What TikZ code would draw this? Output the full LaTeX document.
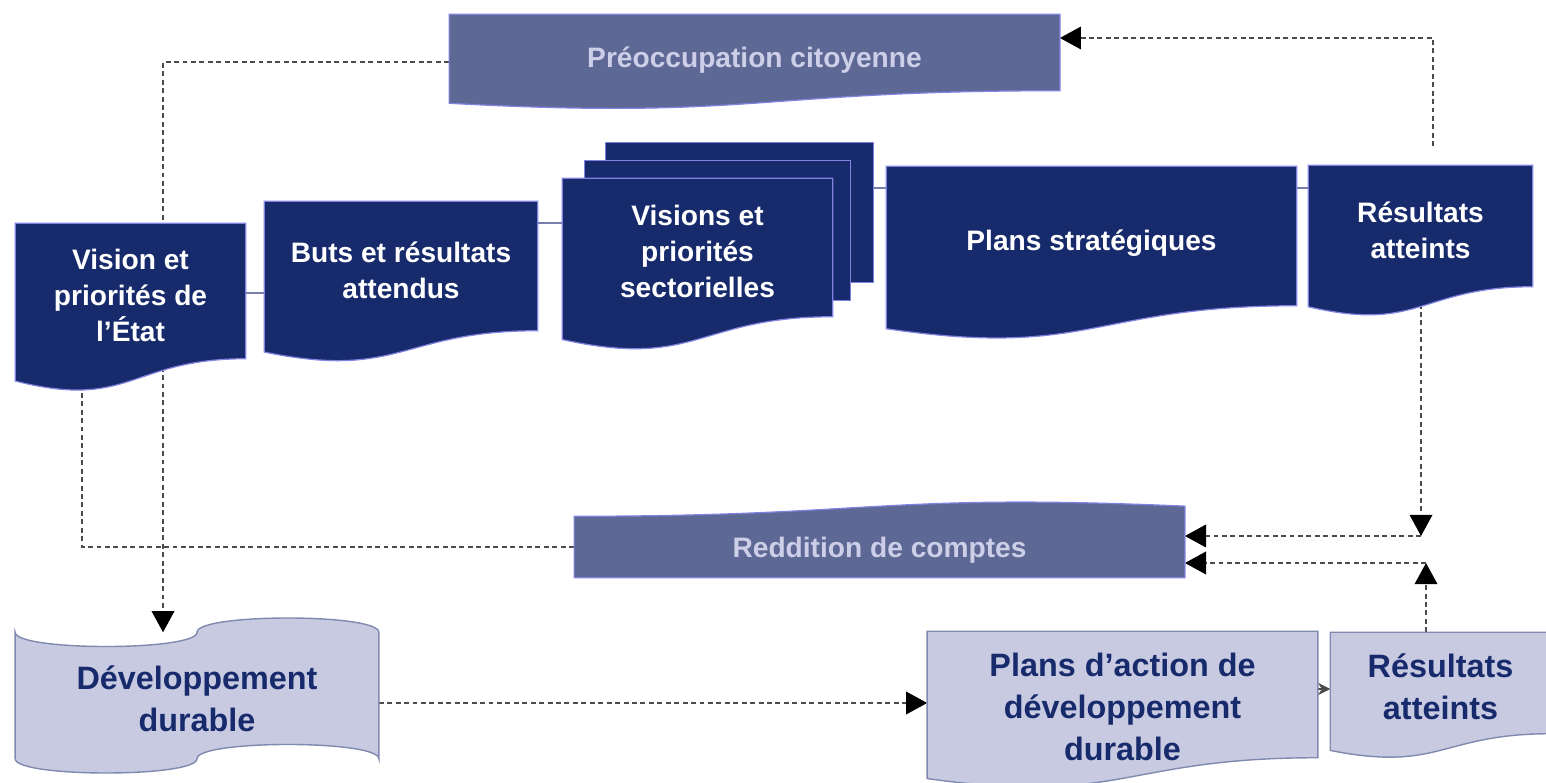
\documentclass[tikz,border=0pt]{standalone}
\usepackage{fontspec}
\setmainfont{Liberation Sans}
\usetikzlibrary{arrows.meta,calc,backgrounds}

\definecolor{navyfill}{RGB}{23,42,107}
\definecolor{slatefill}{RGB}{94,104,148}
\definecolor{lavfill}{RGB}{200,202,226}
\definecolor{lavtext}{RGB}{205,207,232}
\definecolor{edgeblue}{RGB}{130,130,225}
\definecolor{linkgray}{RGB}{75,75,75}
\definecolor{tiegray}{RGB}{120,126,172}

% lines of a box, pushed down by the first row height
\newcommand{\boxlines}[1]{\begin{tabular}{@{}c@{}}\rule{0pt}{\textdropamount}#1\end{tabular}}

\tikzset{
  textdrop/.code={\def\textdropamount{#1}},
  darkbox/.style={inner sep=0pt, textdrop=11.2pt, text=white, font=\bfseries\fontsize{8}{10.2}\selectfont},
  lightbox/.style={inner sep=0pt, textdrop=12.3pt, text=navyfill, font=\bfseries\fontsize{9.2}{12}\selectfont},
  bannerbox/.style={inner sep=0pt, textdrop=11.4pt, text=lavtext, font=\bfseries\fontsize{8}{10.2}\selectfont},
  darkfill/.style={fill=navyfill, draw=edgeblue, line width=0.35pt},
  slatefillst/.style={fill=slatefill, draw=edgeblue, line width=0.35pt},
  lightfill/.style={fill=lavfill, draw=navyfill!55, line width=0.4pt},
  dashlink/.style={draw=linkgray, line width=0.55pt, dash pattern=on 1.4pt off 1pt},
  linkhead/.style={-{Triangle[length=6pt,width=6.4pt,color=black]}},
  tie/.style={draw=tiegray, line width=0.6pt}
}

% document shape: straight top, wavy bottom under the node
\newcommand{\docshape}[2]{%
  \path[#1] let \p1=(#2.north west), \p2=(#2.south east), \n1={\y1-\y2} in
    (\p1) -- (\x2,\y1) -- (\p2)
    .. controls ({(\x1+\x2)/2},\y2) and ({(\x1+\x2)/2},{\y2-0.381*\n1}) ..
    (\x1,{\y2-0.1646*\n1}) -- cycle;}
% same shape turned round, wave on top
\newcommand{\docshapeup}[2]{%
  \path[#1] let \p1=(#2.north west), \p2=(#2.south east), \n1={\y1-\y2} in
    (\p2) -- (\x1,\y2) -- (\p1)
    .. controls ({(\x1+\x2)/2},\y1) and ({(\x1+\x2)/2},{\y1+0.381*\n1}) ..
    (\x2,{\y1+0.1646*\n1}) -- cycle;}

\begin{document}
\begin{tikzpicture}[x=0.01cm, y=-0.01cm]
\useasboundingbox (0,0) rectangle (1546,783);

% upper row
\node[bannerbox, minimum width=6.09cm, minimum height=0.75cm] (preo) at (754.5,52.5) {\boxlines{Préoccupation citoyenne}};
\node[darkbox, minimum width=2.29cm, minimum height=1.34cm] (vision) at (130.5,291) {\boxlines{Vision et\\priorités de\\l’État}};
\node[darkbox, minimum width=2.72cm, minimum height=1.28cm] (buts) at (401,266) {\boxlines{Buts et résultats\\attendus}};
\node[inner sep=0pt, minimum width=2.67cm, minimum height=1.39cm] (visback) at (739.5,212.5) {};
\node[inner sep=0pt, minimum width=2.65cm, minimum height=1.39cm] (vismid) at (717.5,230.5) {};
\node[darkbox, minimum width=2.69cm, minimum height=1.37cm] (visfront) at (697.5,247.5) {\boxlines{Visions et\\priorités\\sectorielles}};
\node[darkbox, minimum width=4.09cm, minimum height=1.38cm] (plans) at (1091.5,236) {\boxlines{Plans stratégiques}};
\node[darkbox, minimum width=2.23cm, minimum height=1.20cm] (res1) at (1420.5,226) {\boxlines{Résultats\\atteints}};

% lower row
\node[bannerbox, textdrop=8.8pt, minimum width=6.09cm, minimum height=0.60cm] (redd) at (879.5,547) {\boxlines{Reddition de comptes}};
\node[lightbox, textdrop=12.2pt, minimum width=3.62cm, minimum height=1.25cm] (dev) at (197,695.5) {\boxlines{Développement\\durable}};
\node[lightbox, minimum width=3.89cm, minimum height=1.25cm] (pda) at (1122.5,694.5)
  {\raisebox{5.1pt}[0pt][0pt]{\begin{tabular}[t]{@{}c@{}}Plans d’action de\\développement\\durable\end{tabular}}};
\node[lightbox, minimum width=2.19cm, minimum height=1.00cm] (res2) at (1440.5,683) {\boxlines{Résultats\\atteints}};

\coordinate (citybend) at (163,62);
\coordinate (reddbend) at (82,0);
\coordinate (resbend) at (1433,38);
\coordinate (resdown) at (1421,536);
\coordinate (resup) at (1426,563);
\coordinate (devline) at (0,703);
\coordinate (pdaline) at (0,689);
\coordinate (tieA) at (0,293);
\coordinate (tieB) at (0,223);
\coordinate (tieC) at (0,188);

\begin{pgfonlayer}{background}
\draw[dashlink, linkhead] (preo.west |- citybend) -- (citybend) -- (citybend |- dev.north);
\draw[dashlink] (redd.west) -| (reddbend |- vision.south);
\draw[dashlink, linkhead, shorten <=0.19cm] (res1.north -| resbend) |- (preo.east |- resbend);
\draw[dashlink, linkhead] (res1.south -| resdown) -- (resdown);
\draw[dashlink, linkhead] (resdown) -- (redd.east |- resdown);
\draw[dashlink, linkhead] (res2.north -| resup) -- (resup);
\draw[dashlink, linkhead] (resup) -- (redd.east |- resup);
\draw[dashlink, linkhead] (dev.east |- devline) -- (pda.west |- devline);
\draw[linkgray, line width=0.5pt, -{Stealth[length=3.5pt,width=3.5pt]}] (pda.east |- pdaline) -- (res2.west |- pdaline);
\draw[tie] (vision.east |- tieA) -- (buts.west |- tieA);
\draw[tie] (buts.east |- tieB) -- (visfront.west |- tieB);
\draw[tie] (visback.east |- tieC) -- (plans.west |- tieC);
\draw[tie] (plans.east |- tieC) -- (res1.west |- tieC);

\docshape{slatefillst}{preo}
\docshape{darkfill}{vision}
\docshape{darkfill}{buts}
\path[darkfill] (visback.north west) rectangle (visback.south east);
\path[darkfill] (vismid.north west) rectangle (vismid.south east);
\docshape{darkfill}{visfront}
\docshape{darkfill}{plans}
\docshape{darkfill}{res1}
\docshapeup{slatefillst}{redd}
\path[lightfill] (dev.north west)
  .. controls ([yshift=-0.19cm]dev.north west) and ([yshift=-0.19cm]dev.north) .. (dev.north)
  .. controls ([yshift=0.19cm]dev.north) and ([yshift=0.19cm]dev.north east) .. (dev.north east)
  -- (dev.south east)
  .. controls ([yshift=0.19cm]dev.south east) and ([yshift=0.19cm]dev.south) .. (dev.south)
  .. controls ([yshift=-0.19cm]dev.south) and ([yshift=-0.19cm]dev.south west) .. (dev.south west)
  -- cycle;
\docshape{lightfill}{pda}
\docshape{lightfill}{res2}
\end{pgfonlayer}
\end{tikzpicture}
\end{document}
